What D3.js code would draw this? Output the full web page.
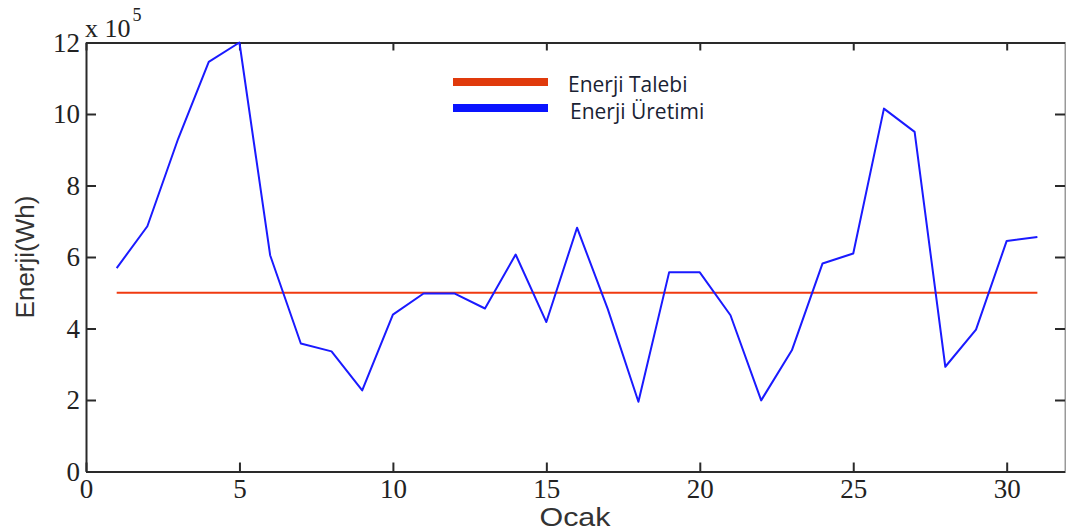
<!DOCTYPE html>
<html>
<head>
<meta charset="utf-8">
<script src="https://cdn.jsdelivr.net/npm/d3@7"></script>
<style>
  html, body { margin: 0; padding: 0; background: #fff; }
  svg { display: block; }
</style>
</head>
<body>
<svg id="chart" width="1066" height="531"></svg>
<script>
// ---- data (energy in units of 10^5 Wh) ----
const days = [1,2,3,4,5,6,7,8,9,10,11,12,13,14,15,16,17,18,19,20,21,22,23,24,25,26,27,28,29,30,31];
const uretim = [5.69,6.86,9.3,11.46,12.0,6.05,3.58,3.36,2.27,4.39,4.98,4.98,4.56,6.07,4.18,6.82,4.55,1.95,5.57,5.57,4.37,1.99,3.39,5.82,6.1,10.15,9.5,2.93,3.97,6.45,6.56];
const talep = days.map(() => 5.0);
const xTicks = [0,5,10,15,20,25,30];
const yTicks = [0,2,4,6,8,10,12];
const legendLabels = ["Enerji Talebi", "Enerji Üretimi"];
const legendColors = ["#e03a0c", "#0a14ff"];

const svg = d3.select("#chart");
const x = d3.scaleLinear().domain([0, 31.9]).range([86, 1065]);
const y = d3.scaleLinear().domain([0, 12]).range([471.5, 42.5]);

const axisColor = "#2a2a2a";
function styleAxis(g) {
  g.selectAll("path.domain").attr("stroke", axisColor).attr("stroke-width", 2);
  g.selectAll(".tick line").attr("stroke", axisColor).attr("stroke-width", 2);
  g.selectAll(".tick text")
    .attr("fill", "#222")
    .style("font-family", "'Liberation Serif', 'Times New Roman', serif")
    .style("font-size", "27px");
}

// bottom axis
svg.append("g").attr("transform", `translate(0,${y(0)})`)
  .call(d3.axisBottom(x).tickValues(xTicks).tickSizeInner(-9).tickSizeOuter(0).tickPadding(7))
  .call(styleAxis);
// top axis
svg.append("g").attr("transform", `translate(0,${y(12)})`)
  .call(d3.axisTop(x).tickValues(xTicks).tickSizeInner(-8).tickSizeOuter(0).tickFormat(""))
  .call(styleAxis);
// left axis
svg.append("g").attr("transform", `translate(${x(0)},0)`)
  .call(d3.axisLeft(y).tickValues(yTicks).tickSizeInner(-10).tickSizeOuter(0).tickPadding(6))
  .call(styleAxis);
// right axis
svg.append("g").attr("transform", `translate(${x.range()[1]},0)`)
  .call(d3.axisRight(y).tickValues(yTicks).tickSizeInner(-10).tickSizeOuter(0).tickFormat(""))
  .call(g => { styleAxis(g); g.selectAll("path.domain").attr("stroke", "#999"); });

// exponent label
const exp = svg.append("text")
  .attr("x", 85).attr("y", 37)
  .attr("fill", "#222")
  .style("font-family", "'Liberation Serif', 'Times New Roman', serif")
  .style("font-size", "26px");
exp.append("tspan").text("x 10");
exp.append("tspan").attr("dx", 2).attr("dy", -16).style("font-size", "18px").text("5");

// axis titles
svg.append("text")
  .attr("transform", `translate(34,${(y(0)+y(12))/2}) rotate(-90)`)
  .attr("text-anchor", "middle")
  .attr("fill", "#333")
  .style("font-family", "'Liberation Sans', Arial, sans-serif")
  .style("font-size", "26px")
  .text("Enerji(Wh)");
svg.append("text")
  .attr("x", 575).attr("y", 526)
  .attr("text-anchor", "middle")
  .attr("fill", "#333")
  .style("font-family", "'Liberation Sans', Arial, sans-serif")
  .style("font-size", "25px")
  .attr("textLength", 71)
  .attr("lengthAdjust", "spacingAndGlyphs")
  .text("Ocak");

// lines
const line = d3.line().x((d, i) => x(days[i])).y(d => y(d));
svg.append("path").datum(talep)
  .attr("fill", "none").attr("stroke", "#f03a10").attr("stroke-width", 1.8)
  .attr("d", line);
svg.append("path").datum(uretim)
  .attr("fill", "none").attr("stroke", "#1a1aff").attr("stroke-width", 2)
  .attr("stroke-linejoin", "round")
  .attr("d", line);

// legend
const leg = svg.append("g");
legendLabels.forEach((lab, i) => {
  const cy = 82 + i * 26;
  leg.append("line")
    .attr("x1", 453).attr("x2", 548).attr("y1", cy).attr("y2", cy)
    .attr("stroke", legendColors[i]).attr("stroke-width", 8);
  leg.append("text")
    .attr("x", 568 + i * 2).attr("y", cy + 10 + i * 0.5)
    .attr("fill", "#1a2233")
    .style("font-family", "'Open Sans', 'Noto Sans', sans-serif")
    .style("font-size", "21px")
    .text(lab);
});
</script>
</body>
</html>
